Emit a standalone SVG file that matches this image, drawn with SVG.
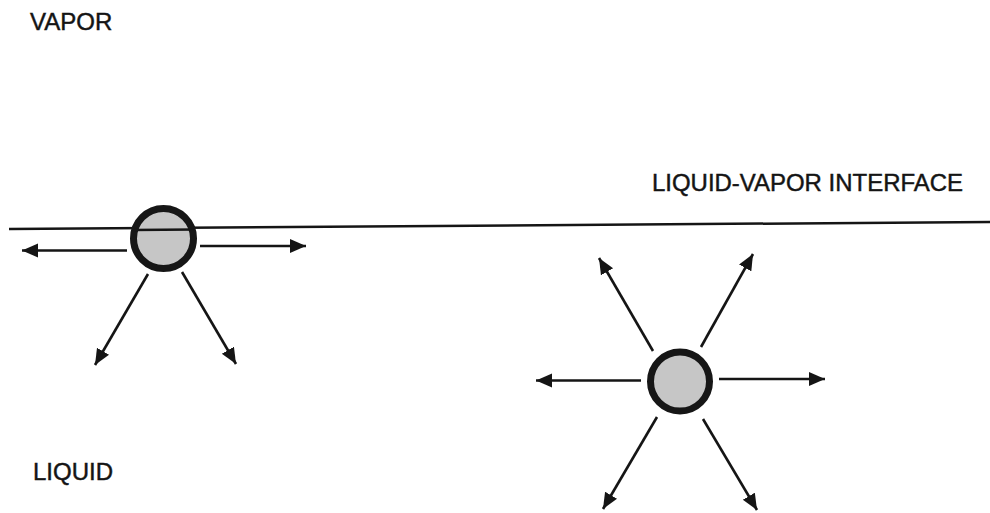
<svg xmlns="http://www.w3.org/2000/svg" width="990" height="513" viewBox="0 0 990 513">
  <style>
    .label { font-family: "Liberation Sans", Arial, sans-serif; font-size: 24px; fill: #141414; stroke: #141414; stroke-width: 0.45; }
    .surface { stroke: #151515; stroke-width: 2.5; fill: none; }
    .arrow { stroke: #151515; stroke-width: 2.6; fill: none; marker-end: url(#head); }
    .bubble { fill: #c6c6c6; stroke: #161616; stroke-width: 7; }
  </style>
  <defs>
    <marker id="head" markerUnits="userSpaceOnUse" markerWidth="17" markerHeight="15" refX="16" refY="7" orient="auto">
      <path d="M0,0 L16,7 L0,14 Z" fill="#151515"/>
    </marker>
  </defs>
  <rect width="990" height="513" fill="#ffffff"/>

  <!-- region labels -->
  <text class="label" x="30" y="30">VAPOR</text>
  <text class="label" x="33" y="480">LIQUID</text>
  <text class="label" x="652" y="191" textLength="311" lengthAdjust="spacingAndGlyphs">LIQUID-VAPOR INTERFACE</text>

  <!-- liquid-vapor interface -->
  <line id="interface" class="surface" x1="9" y1="229" x2="990" y2="222"/>

  <g id="connectors">
    <!-- molecule at the surface -->
    <line class="arrow" x1="127" y1="250.5" x2="22" y2="250.5"/>
    <line class="arrow" x1="200" y1="246" x2="306" y2="246"/>
    <line class="arrow" x1="148" y1="274" x2="95" y2="365"/>
    <line class="arrow" x1="182" y1="272" x2="236" y2="364"/>
    <!-- molecule in the bulk liquid -->
    <line class="arrow" x1="641" y1="380.5" x2="536" y2="380.5"/>
    <line class="arrow" x1="719" y1="379" x2="825" y2="379"/>
    <line class="arrow" x1="653" y1="351" x2="599" y2="258"/>
    <line class="arrow" x1="701" y1="347" x2="753" y2="254"/>
    <line class="arrow" x1="657" y1="417" x2="603" y2="509"/>
    <line class="arrow" x1="703" y1="419" x2="757" y2="510"/>
  </g>

  <g id="surface-molecule">
    <circle class="bubble" cx="163.5" cy="238.5" r="30"/>
    <!-- interface line seen through the molecule -->
    <line class="surface" x1="133" y1="230" x2="194" y2="229.5"/>
  </g>
  <g id="bulk-molecule">
    <circle class="bubble" cx="680" cy="381.5" r="29.5"/>
  </g>
</svg>
